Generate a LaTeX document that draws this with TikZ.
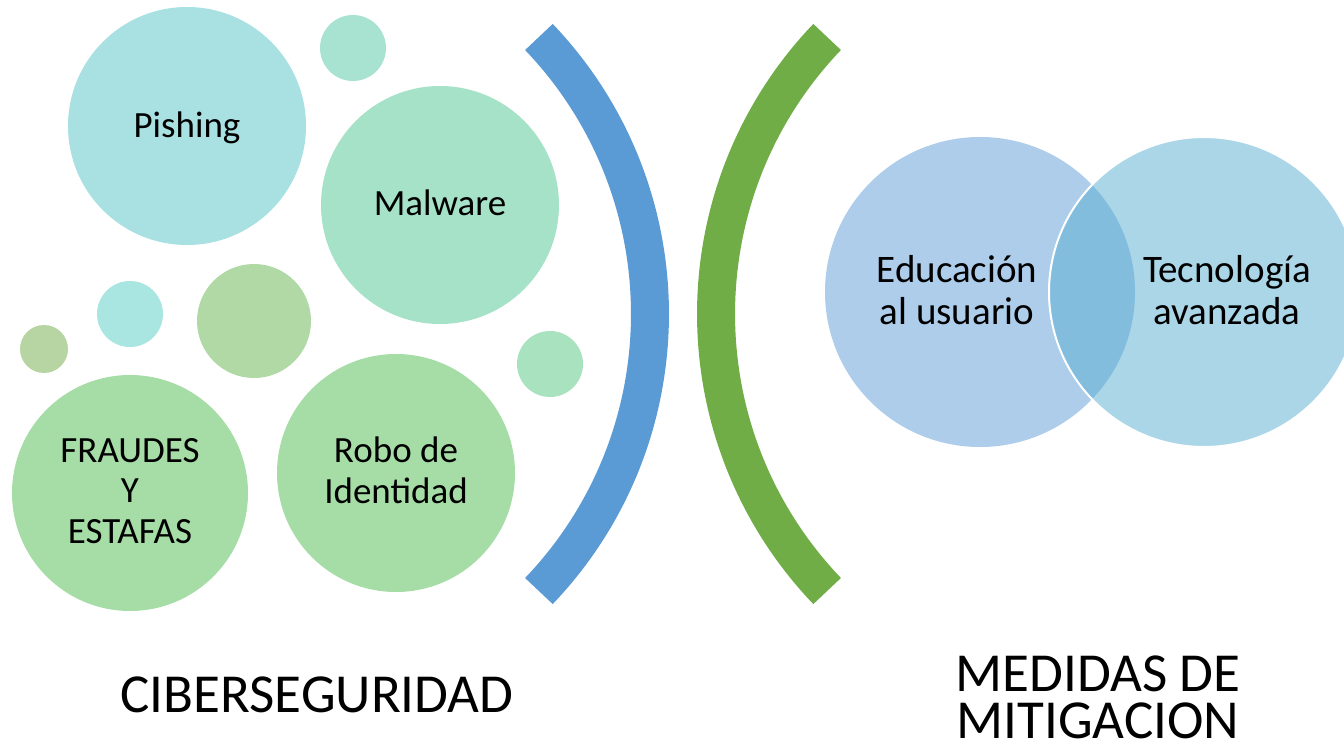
\documentclass[tikz,border=0pt]{standalone}
\usepackage{fontspec}
\setmainfont{Carlito}
\usepackage{tikz}
\usetikzlibrary{positioning,calc}
\definecolor{arcblue}{HTML}{5B9BD5}
\definecolor{arcgreen}{HTML}{70AD47}
\definecolor{bubcyan}{HTML}{A9E1E3}
\definecolor{bubcyanlight}{HTML}{A9E5E1}
\definecolor{bubteal}{HTML}{A8E3D2}
\definecolor{bubmint}{HTML}{A6E2C8}
\definecolor{bubmintgreen}{HTML}{A8E2BF}
\definecolor{bubgreen}{HTML}{A6DDA6}
\definecolor{bubsage}{HTML}{B1D9A5}
\definecolor{bubolive}{HTML}{B7D5A3}
\definecolor{vennleft}{HTML}{ADCDEA}
\definecolor{vennright}{HTML}{ABD6E7}
\definecolor{vennmid}{HTML}{82BDDD}
\tikzset{
    bubtext/.style={font=\fontsize{37}{40.5}\selectfont, align=center, anchor=base, inner sep=0pt},
    venntext/.style={font=\fontsize{39}{42}\selectfont, align=center, anchor=base, inner sep=0pt},
    titletext/.style={font=\fontsize{55}{47}\selectfont, align=center, anchor=base, inner sep=0pt},
    bracket/.style={line width=38}
}

\begin{document}
\begin{tikzpicture}[x=1pt,y=-1pt]
    \useasboundingbox (0,0) rectangle (1344,747);
    \clip (0,0) rectangle (1344,747);
    \coordinate (leftc) at (249,314);
    \coordinate (rightc) at (1117,314);

    % bubbles of threats
    \fill[bubcyan] (187,126) circle (119);
    \fill[bubteal] (353,48) circle (33);
    \fill[bubmint] (440,205) circle (119);
    \fill[bubcyanlight] (130,314) circle (33);
    \fill[bubsage] (254,321) circle (57);
    \fill[bubolive] (44,349) circle (24);
    \fill[bubmintgreen] (550,364) circle (33);
    \fill[bubgreen] (130,493) circle (118);
    \fill[bubgreen] (396,473) circle (119);

    % multi-line nodes sit on the baseline of their last line
    \node[bubtext] (pishing) at (187,137) {Pishing};
    \node[bubtext] (malware) at (440,215) {Malware};
    \node[bubtext] (fraudes) at (130,543) {FRAUDES\\Y\\ESTAFAS};
    \node[bubtext] (robo) at (396,503) {Robo de\\Identidad};

    % the two brackets
    \draw[bracket, arcblue]
      ($(leftc) + (-43.7:401)$)
      arc [start angle=-43.7, end angle=43.7, radius=401]
    ;
    \draw[bracket, arcgreen]
      ($(rightc) + (223.7:401)$)
      arc [start angle=223.7, end angle=136.3, radius=401]
    ;

    % venn of measures
    \fill[vennleft] (980,292) circle (155);
    \fill[vennright] (1204,292) circle (155);
    \begin{scope}
      \clip (980,292) circle (155);
      \fill[vennmid] (1204,292) circle (155);
    \end{scope}
    \draw[white, line width=2] (1204,292) circle (155);

    \node[venntext] (educacion) at (957,324) {Educación\\al usuario};
    \node[venntext] (tecnologia) at (1227,324) {Tecnología\\avanzada};

    % titles
    \node[titletext] (ciber) at (317,712) {CIBERSEGURIDAD};
    \node[titletext] (medidas) at (1098,738) {MEDIDAS DE\\MITIGACION};
\end{tikzpicture}
\end{document}
